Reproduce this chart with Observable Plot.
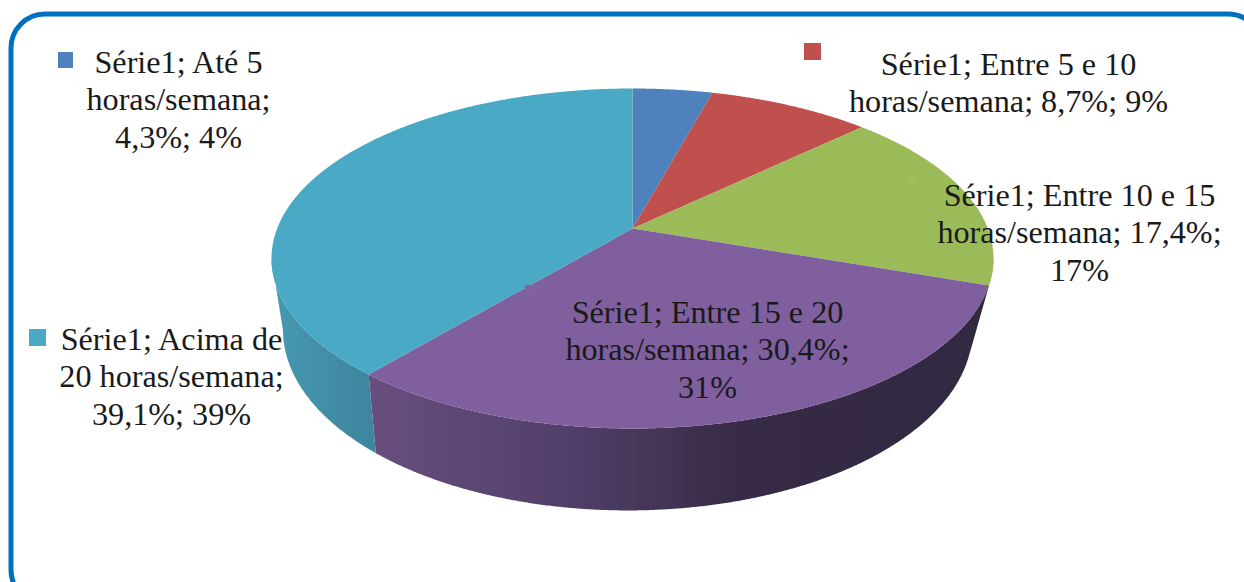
<!DOCTYPE html>
<html>
<head>
<meta charset="utf-8">
<script src="https://cdn.jsdelivr.net/npm/d3@7"></script>
<script src="https://cdn.jsdelivr.net/npm/@observablehq/plot@0.6"></script>
<style>html,body{margin:0;padding:0;background:#fff;overflow:hidden}svg{display:block}</style>
</head>
<body>
<div id="chart"></div>
<script>
const categories = ["Até 5 horas/semana","Entre 5 e 10 horas/semana","Entre 10 e 15 horas/semana","Entre 15 e 20 horas/semana","Acima de 20 horas/semana"];
const values = [4.3, 8.7, 17.4, 30.4, 39.1];
const labels = [
  "Série1; Até 5\nhoras/semana;\n4,3%; 4%",
  "Série1; Entre 5 e 10\nhoras/semana; 8,7%; 9%",
  "Série1; Entre 10 e 15\nhoras/semana; 17,4%;\n17%",
  "Série1; Entre 15 e 20\nhoras/semana; 30,4%;\n31%",
  "Série1; Acima de\n20 horas/semana;\n39,1%; 39%"
];
const colors = ["#4f81bd","#c0504d","#9bbb59","#7f5f9e","#4aa9c4"];

// layout of the drawing (pixel-like units of the identity scales)
const W = 1244, H = 582;
const ell = {cx:632, cy:258, rx:361, ry:170, apexOffset:-30/170, lowerSquash:0.955};
const base = {ax:0.955, bx:23.7, ay:1.062, by:55.4};
const labelPos = [[178,98],[1008,81],[1079,231],[707,348],[171,375]];
const keyPos = [[58,52,15,16],[804,43,17,17],[905,172,13,13],[525,285,14,14],[29,329,17,17]];
const keyFill = [colors[0],colors[1],"#9dbd5c","#8162a0",colors[4]];

// ray from the projected pie centre to the rim of the ellipse, at a data angle
function rim(deg){
  const t = deg*Math.PI/180, dx0 = Math.sin(t), dy0 = -Math.cos(t);
  const dy1 = dy0>0 ? dy0*ell.lowerSquash : dy0, n = Math.hypot(dx0,dy1);
  const dx = dx0/n, dy = dy1/n, a = ell.apexOffset;
  const b = a*dy, s = -b + Math.sqrt(b*b - a*a + 1);
  const px = s*dx, py = a + s*dy;
  return {x: ell.cx + ell.rx*px, y: ell.cy + ell.ry*py, py};
}
const low = p => ({x: base.ax*p.x + base.bx, y: base.ay*p.y + base.by});
const total = d3.sum(values);
let acc = 0;
const slices = values.map((v,i)=>{
  const a0 = acc/total*360; acc += v; const a1 = acc/total*360;
  const arc = d3.range(a0, a1, 0.25).concat(a1).map(rim);
  return {i, arc};
});
const wedge = s => [{x:ell.cx, y:ell.cy + ell.ry*ell.apexOffset}, ...s.arc.map(({x,y})=>({x,y}))];
const wall = s => {
  const top = s.arc.filter(p=>p.py>=0);
  return [...top.map(({x,y})=>({x,y})), ...top.slice().reverse().map(low)];
};

const defs = () => {
  const svg = d3.create("svg:defs");
  const grad = (id, stops) => {
    const g = svg.append("linearGradient").attr("id",id).attr("gradientUnits","userSpaceOnUse")
      .attr("x1",0).attr("x2",W).attr("y1",0).attr("y2",0);
    stops.forEach(([o,c])=>g.append("stop").attr("offset",o/W).attr("stop-color",c));
  };
  grad("wall-purple",[[375,"#674e7e"],[560,"#51406a"],[740,"#372b46"],[990,"#322840"]]);
  grad("wall-teal",[[275,"#4798b2"],[375,"#3d849d"]]);
  return svg.node();
};
const wallFill = {2:"#8fae4e",3:"url(#wall-purple)",4:"url(#wall-teal)"};

const plot = Plot.plot({
  width:W, height:H, margin:0,
  x:{domain:[0,W],range:[0,W],axis:null},
  y:{domain:[0,H],range:[0,H],axis:null},
  marks:[
    defs,
    ...slices.filter(s=>wallFill[s.i]).map(s=>Plot.line(wall(s),{x:"x",y:"y",fill:wallFill[s.i],stroke:"none"})),
    ...slices.map(s=>Plot.line(wedge(s),{x:"x",y:"y",fill:colors[s.i],stroke:"none"})),
    Plot.rect(keyPos.map((k,i)=>({x1:k[0],x2:k[0]+k[2],y1:k[1],y2:k[1]+k[3],c:keyFill[i]})),
      {x1:"x1",x2:"x2",y1:"y1",y2:"y2",fill:"c",inset:0}),
    Plot.text(labels.map((t,i)=>({t,x:labelPos[i][0],y:labelPos[i][1]})),
      {x:"x",y:"y",text:"t",fontFamily:"'Liberation Serif'",fontSize:32.2,lineHeight:1.155,fill:"#1a1a1a",textAnchor:"middle"}),
    Plot.rect([{x1:11,x2:1262,y1:14,y2:604}],
      {x1:"x1",x2:"x2",y1:"y1",y2:"y2",fill:"none",stroke:"#0070c0",strokeWidth:5,rx:34})
  ]
});
document.getElementById("chart").append(plot);
</script>
</body>
</html>
